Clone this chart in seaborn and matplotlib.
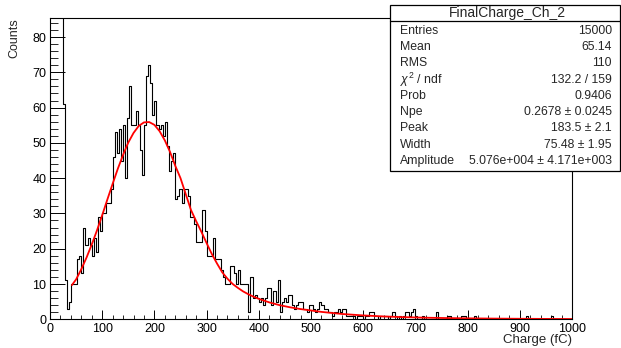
import numpy as np
import pandas as pd
import matplotlib
matplotlib.use("Agg")
import matplotlib.pyplot as plt
import seaborn as sns
from matplotlib.ticker import MultipleLocator
from matplotlib.patches import Rectangle
from matplotlib.lines import Line2D

# ---------------- data (4 fC bins, 0 .. 1000 fC) ----------------
bin_width = 4
x_min, x_max = 0, 1000

counts_0_124 = [1500, 3200, 2900, 1700, 600, 180, 61, 11, 3, 5, 10, 10, 10, 17, 18, 13,
                26, 21, 23, 21, 18, 23, 19, 29, 25, 30, 30, 33, 33, 37, 46]
counts_124_248 = [53, 47, 54, 45, 55, 40, 57, 66, 55, 55, 59, 55, 48, 41, 55, 69, 72, 67,
                  58, 62, 55, 54, 55, 52, 56, 49, 42, 45, 47, 34, 35]
counts_248_372 = [37, 33, 37, 37, 35, 29, 29, 27, 22, 22, 22, 31, 25, 18, 18, 18, 23, 17,
                  17, 17, 14, 12, 10, 10, 15, 15, 13, 10, 14, 10, 10]
counts_372_580 = [10, 10, 2, 12, 6, 7, 6, 5, 6, 4, 6, 9, 9, 4, 8, 5, 11, 2, 5, 6, 5, 7, 7,
                  4, 3, 4, 5, 5, 3, 3, 2, 4, 4, 3, 2, 3, 5, 4, 3, 3, 2, 2, 1, 2, 2, 3, 2,
                  3, 3, 1, 1, 1]
counts_580_680 = [1, 0, 1, 1, 1, 0, 1, 1, 2, 2, 1, 1, 0, 1, 1, 1, 1, 0, 1, 2, 1, 0, 1, 0, 1]
counts_680_780 = [2, 2, 1, 2, 3, 1, 0, 0, 1, 0, 0, 0, 0, 0, 0, 2, 0, 0, 0, 0, 1, 1, 0, 0, 0]
counts_780_880 = [0, 0, 1, 1, 0, 0, 0, 0, 1, 0, 0, 0, 0, 0, 0, 0, 0, 0, 0, 0, 0, 0, 0, 0, 0]
counts_880_1000 = [0, 0, 0, 0, 0, 0, 0, 0, 1, 0, 0, 0, 0, 0, 0, 0, 0, 0, 0, 0,
                   1, 0, 0, 0, 0, 0, 0, 0, 0, 0]

counts = (counts_0_124 + counts_124_248 + counts_248_372 + counts_372_580 +
          counts_580_680 + counts_680_780 + counts_780_880 + counts_880_1000)

fit_x = [42, 50, 60, 70, 80, 90, 100, 110, 120, 130, 140, 150, 160, 170, 180, 190, 200,
         210, 220, 230, 240, 250, 260, 270, 280, 290, 300, 310, 320, 330, 340, 350, 360,
         370, 380, 390, 400, 420, 440, 460, 480, 500, 520, 540, 560, 580, 600, 640, 680,
         720, 760, 800, 850, 900, 950, 1000]
fit_y = [9.7, 11.3, 14.2, 17.5, 21.2, 25.2, 29.5, 34.0, 38.4, 42.7, 46.6, 50.1, 52.8, 54.8,
         55.8, 55.9, 55.1, 53.3, 50.7, 47.4, 43.5, 40.0, 35.5, 31.0, 27.8, 24.8, 21.6, 18.5,
         15.8, 13.3, 11.5, 10.0, 8.9, 7.9, 7.1, 6.4, 5.8, 4.8, 4.0, 3.4, 2.9, 2.5, 2.1, 1.8,
         1.5, 1.3, 1.1, 0.8, 0.6, 0.45, 0.35, 0.27, 0.2, 0.15, 0.11, 0.08]

stats_title = "FinalCharge_Ch_2"
stats_labels = ["Entries", "Mean", "RMS", r"$\chi^{2}$ / ndf", "Prob", "Npe", "Peak",
                "Width", "Amplitude"]
stats_values = ["15000", "65.14", "110", "132.2 / 159", "0.9406", "0.2678 \u00b1 0.0245",
                "183.5 \u00b1 2.1", "75.48 \u00b1 1.95", "5.076e+004 \u00b1 4.171e+003"]

x_label = "Charge (fC)"
y_label = "Counts"

# ---------------- style ----------------
sns.set_style("white")
plt.rcParams["font.family"] = ["Liberation Sans", "DejaVu Sans"]
plt.rcParams["mathtext.fontset"] = "custom"
plt.rcParams["mathtext.rm"] = "Liberation Sans"
plt.rcParams["mathtext.it"] = "Liberation Sans:italic"

W, H = 621, 348
fig = plt.figure(figsize=(W / 100, H / 100), dpi=100)
fig.patch.set_facecolor("white")

ax_l, ax_r, ax_t, ax_b = 50, 572, 18.3, 319.3
ax = fig.add_axes([ax_l / W, (H - ax_b) / H, (ax_r - ax_l) / W, (ax_b - ax_t) / H])
ax.set_facecolor("white")

n_bins = len(counts)
centers = x_min + bin_width * (np.arange(n_bins) + 0.5)
hist_df = pd.DataFrame({"charge": centers, "counts": np.asarray(counts, dtype=float)})
fit_df = pd.DataFrame({"charge": fit_x, "value": fit_y})

sns.histplot(data=hist_df, x="charge", weights="counts", binwidth=bin_width,
             binrange=(x_min, x_max), element="step", fill=False, color="black",
             linewidth=0.8, ax=ax)
sns.lineplot(data=fit_df, x="charge", y="value", color="#ff0000", linewidth=1.3, ax=ax)

ax.set_xlim(0, 1000)
ax.set_ylim(0, 85.3)
ax.set_xlabel("")
ax.set_ylabel("")

for s in ax.spines.values():
    s.set_visible(True)
    s.set_color("black")
    s.set_linewidth(0.8)

ax.xaxis.set_major_locator(MultipleLocator(100))
ax.xaxis.set_minor_locator(MultipleLocator(20))
ax.yaxis.set_major_locator(MultipleLocator(10))
ax.yaxis.set_minor_locator(MultipleLocator(2))
ax.tick_params(axis="x", which="major", direction="in", length=6.5, width=0.7,
               bottom=True, top=False, labelsize=9, pad=2.5, colors="black")
ax.tick_params(axis="x", which="minor", direction="in", length=3.2, width=0.7,
               bottom=True, top=False)
ax.tick_params(axis="y", which="major", direction="in", length=10.8, width=0.7,
               left=True, right=False, labelsize=9, pad=2.5, colors="black")
ax.tick_params(axis="y", which="minor", direction="in", length=5.4, width=0.7,
               left=True, right=False)
ax.grid(False)

fig.text(14.3 / W, 1 - 18.3 / H, y_label, rotation=90, ha="center", va="top", fontsize=9)
fig.text(572 / W, 1 - 340.5 / H, x_label, ha="right", va="center", fontsize=9.5)

# ---------------- stats box ----------------
bx0, bx1, by0, by1 = 390, 620, 5, 170.5
fig.add_artist(Rectangle((bx0 / W, 1 - by1 / H), (bx1 - bx0) / W, (by1 - by0) / H,
                         transform=fig.transFigure, facecolor="white", edgecolor="black",
                         linewidth=0.9, zorder=10))
fig.add_artist(Line2D([bx0 / W, bx1 / W], [1 - 21 / H, 1 - 21 / H],
                      transform=fig.transFigure, color="black", linewidth=0.9, zorder=11))
fig.text(507 / W, 1 - 13 / H, stats_title, ha="center", va="center", fontsize=10,
         zorder=12)
row_y = [31, 47.25, 63.5, 79.75, 96, 112.25, 128.5, 144.75, 161]
for yy, lab, val in zip(row_y, stats_labels, stats_values):
    fig.text(400 / W, 1 - yy / H, lab, ha="left", va="center", fontsize=8.8, zorder=12)
    fig.text(612 / W, 1 - yy / H, val, ha="right", va="center", fontsize=8.8, zorder=12)

fig.savefig("out.png", dpi=100, facecolor="white")
